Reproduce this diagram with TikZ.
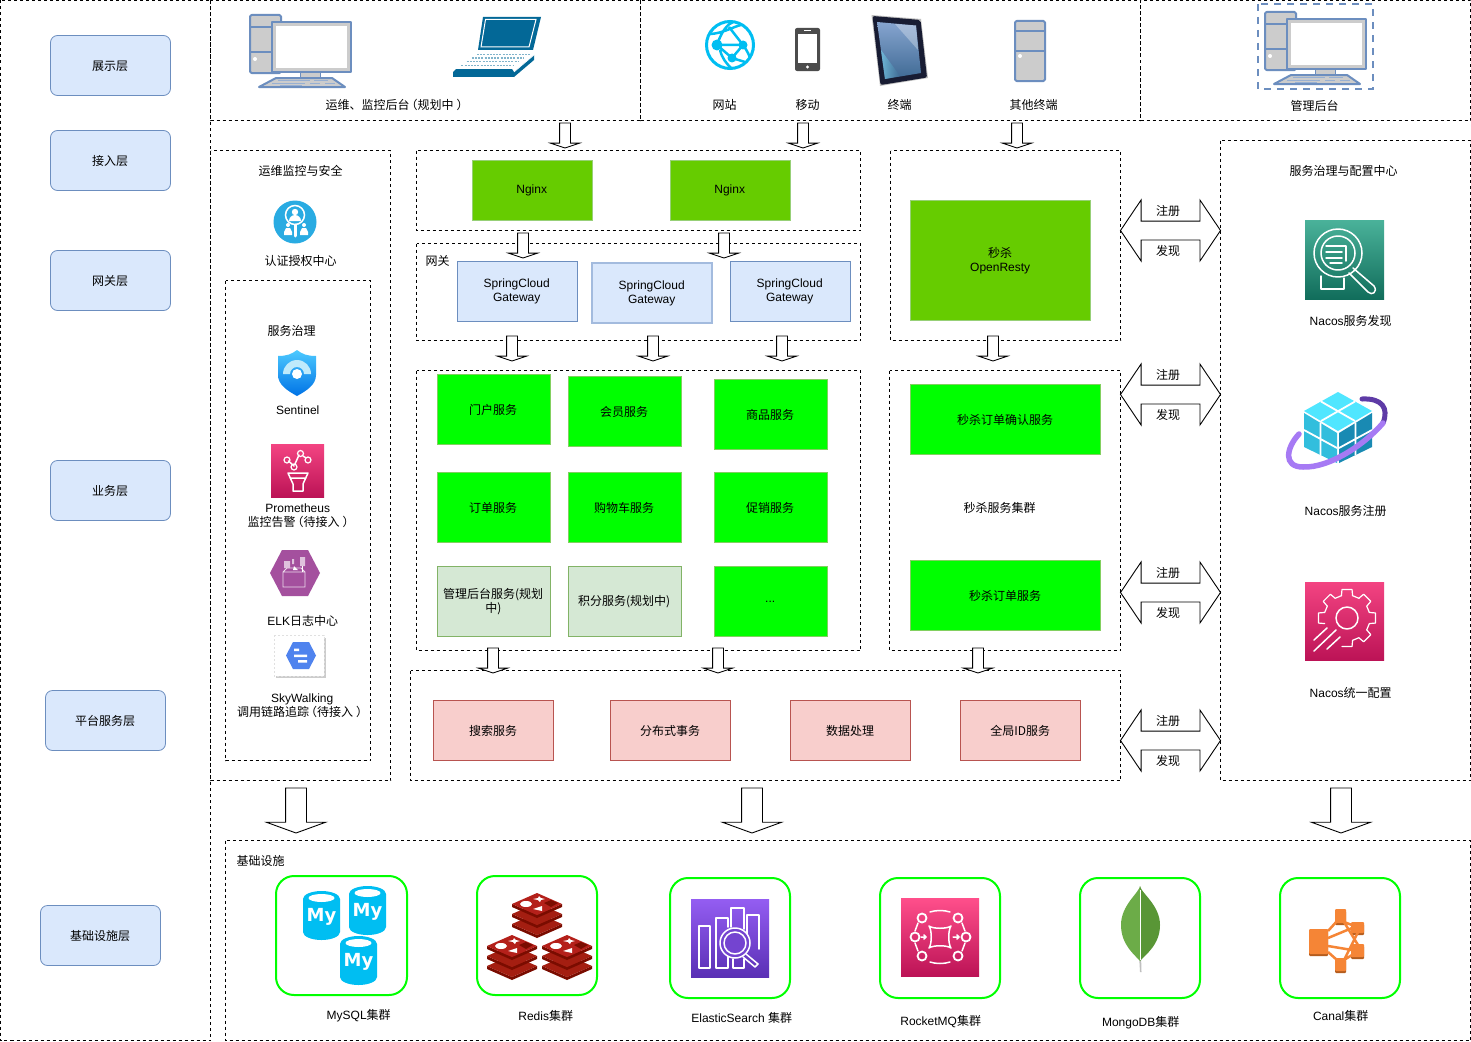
\documentclass[tikz,border=0pt]{standalone}
\usepackage{fontspec}
\setmainfont{Liberation Sans}
\newfontfamily\cjkfont{Noto Sans CJK SC}
\newfontfamily\myfont{DejaVu Sans}
\newcommand\en[1]{\kern-0.3pt\raisebox{-0.6pt}[\height][\depth]{#1}\kern0.3pt}
\newcommand\zh[1]{\en{\cjkfont #1}}
\newcommand\lp{\kern-4pt（}
\newcommand\rp{\kern3pt）\kern-7pt}
\newcommand\shaftbox[1]{\hbox to #1{\vrule width 0pt height #1\hss}}
\usetikzlibrary{shapes.arrows,shapes.geometric}
\definecolor{lb}{HTML}{DAE8FC}\definecolor{bb}{HTML}{6C8EBF}
\definecolor{ng}{HTML}{66CC00}\definecolor{ngb}{HTML}{97D077}
\definecolor{gg}{HTML}{00FF00}\definecolor{ggb}{HTML}{82D060}
\definecolor{pg}{HTML}{D5E8D4}\definecolor{pgb}{HTML}{82B366}
\definecolor{rd}{HTML}{F8CECC}\definecolor{rdb}{HTML}{B85450}
\definecolor{cg}{HTML}{CCCCCC}\definecolor{lapb}{HTML}{036897}
\definecolor{azb}{HTML}{00BEF2}\definecolor{pinkT}{HTML}{F34482}\definecolor{pinkB}{HTML}{BC1356}
\definecolor{pinkR}{HTML}{FF4F8B}
\definecolor{tealT}{HTML}{4AB29A}\definecolor{tealB}{HTML}{116D5B}
\definecolor{purT}{HTML}{945DF2}\definecolor{purB}{HTML}{5A30B5}\definecolor{purM}{HTML}{7444D0}
\definecolor{orng}{HTML}{F58536}\definecolor{orngd}{HTML}{B55D1E}
\definecolor{cubeT}{HTML}{50E6FF}\definecolor{cubeL}{HTML}{32BEDD}\definecolor{cubeR}{HTML}{198AB3}
\definecolor{ringL}{HTML}{A67AF4}\definecolor{ringD}{HTML}{5E3BA6}
\definecolor{leafL}{HTML}{6CAC48}\definecolor{leafR}{HTML}{599636}
\definecolor{authb}{HTML}{29ABE2}\definecolor{elkc}{HTML}{A4509E}\definecolor{skyb}{HTML}{4F83EE}
\definecolor{redT}{HTML}{B4201A}\definecolor{redM}{HTML}{A41E11}\definecolor{redS}{HTML}{7A0C00}
\definecolor{tabA}{HTML}{86A4CF}\definecolor{tabB}{HTML}{3F6A94}\definecolor{tabC}{HTML}{74C3E0}
\definecolor{bezel}{HTML}{181C33}
\tikzset{
 txt/.style={font=\fontsize{12}{14}\selectfont,align=center,inner sep=0pt,text=black},
 dashbox/.style={draw=black,line width=0.9pt,dash pattern=on 3pt off 3pt},
 layerbox/.style={txt,draw=bb,fill=lb,rounded corners=7pt,minimum width=120pt,minimum height=60pt,line width=0.8pt},
 boxn/.style={txt,minimum width=120pt,minimum height=60pt,line width=0.8pt},
 ngx/.style={boxn,draw=ngb,fill=ng},
 gw/.style={boxn,draw=bb,fill=lb},
 gwl/.style={boxn,draw=lb!50!bb,fill=lb,line width=1.4pt},
 svc/.style={boxn,draw=ggb,fill=gg,minimum width=113pt,minimum height=70pt},
 plan/.style={boxn,draw=pgb,fill=pg,minimum width=113pt,minimum height=70pt,text width=108pt},
 plat/.style={boxn,draw=rdb,fill=rd},
 infra/.style={draw=gg,line width=2pt,rounded corners=18pt,fill=white},
 arrS/.style={draw=black,fill=white,line width=0.9pt,shape=single arrow,shape border rotate=270,anchor=tail,inner sep=0pt,outer sep=0pt,
   minimum width=28pt,minimum height=25pt,single arrow head extend=9pt,single arrow tip angle=143},
 arrL/.style={arrS,minimum width=58pt,minimum height=45pt,single arrow head extend=19pt,single arrow tip angle=140},
 arrD/.style={draw=black,fill=white,line width=0.9pt,shape=double arrow,inner sep=0pt,outer sep=0pt,
   minimum width=60pt,minimum height=100pt,double arrow head extend=21pt,double arrow tip angle=112},
 wl/.style={draw=white,line width=1.5pt,line cap=round,line join=round},
 dev/.style={draw=bb,fill=cg,line width=2pt,line join=round},
}
\newcommand\desktopicon[2]{\begin{scope}[shift={(#1,#2)}]
 \draw[dev,rounded corners=1.5pt] (0,0) rectangle (31,58);
 \draw[bb,line width=1.6pt] (0,12)--(31,12) (0,37)--(31,37);
 \fill[white] (5,44) circle (2);
 \draw[dev] (22,7) rectangle (101,57);
 \fill[white] (26,11) rectangle (97,53);
 \fill[cg] (50,58) rectangle (70,63);
 \draw[bb,line width=1pt] (50,58)--(50,63) (70,58)--(70,63);
 \draw[dev] (26,63)--(82,63)--(95,72)--(9,72)--cycle;
 \draw[bb!70,line width=0.8pt] (28,65.5)--(60,65.5) (64,65.5)--(78,65.5) (22,68)--(55,68) (60,68)--(70,68) (75,68)--(85,68) (30,70)--(52,70);
\end{scope}}
\newcommand\stackicon[2]{\begin{scope}[shift={(#1,#2)}]
 \foreach \d/\c in {20/redM,10/redM,0/redT}{
  \fill[redS] (-25,11+\d)--(0,22+\d)--(25,11+\d)--(25,11+\d+3)--(0,22+\d+3)--(-25,11+\d+3)--cycle;
  \fill[\c] (-25,11+\d)--(0,\d)--(25,11+\d)--(0,22+\d)--cycle;
 }
 \fill[white] (-11,11) ellipse (6 and 3);
 \fill[white] (2,3)--(4,5)--(8,6)--(4,7)--(3,9)--(1,7)--(-4,6)--(1,5)--cycle;
 \fill[white] (-4,16)--(5,13)--(5,18)--cycle;
 \fill[redS] (7,10)--(14,7)--(21,10)--(14,14)--cycle;
\end{scope}}
\newcommand\cylicon[3]{\begin{scope}[shift={(#1,#2)}]
 \fill[azb] (0,8) arc[start angle=180,end angle=360,x radius=18.5,y radius=8] -- (37,41) arc[start angle=0,end angle=180,x radius=18.5,y radius=8] -- cycle;
 \fill[white] (18.5,7) ellipse (13 and 4);
 \node[font=\myfont\bfseries\fontsize{18}{18}\selectfont,text=white,inner sep=0pt] (#3) at (18.5,26) {My};
\end{scope}}
\begin{document}
\begin{tikzpicture}[x=1pt,y=-1pt]
\useasboundingbox (0,0) rectangle (1471,1041);
\fill[white] (0,0) rectangle (1471,1041);
% frames
\draw[dashbox] (0.5,0.5) rectangle (210.5,1040.5);
\draw[dashbox] (210.5,0.5) rectangle (640.5,120.5);
\draw[dashbox] (640.5,0.5) rectangle (1140.5,120.5);
\draw[dashbox] (1140.5,0.5) rectangle (1470.5,120.5);
\draw[dashbox] (210.5,150.5) rectangle (390.5,780.5);
\draw[dashbox] (225.5,280.5) rectangle (370.5,760.5);
\draw[dashbox] (416.5,150.5) rectangle (860.5,230.5);
\draw[dashbox] (416.5,243.5) rectangle (860.5,340.5);
\draw[dashbox] (416.5,370.5) rectangle (860.5,650.5);
\draw[dashbox] (890.5,150.5) rectangle (1120.5,340.5);
\draw[dashbox] (889.5,370.5) rectangle (1120.5,650.5);
\draw[dashbox] (410.5,670.5) rectangle (1120.5,780.5);
\draw[dashbox] (1220.5,140.5) rectangle (1470.5,780.5);
\draw[dashbox] (225.5,840.5) rectangle (1470.5,1040.5);
% layers
\node[layerbox] (lay1) at (110.5,65.5) {\zh{展示层}};
\node[layerbox] (lay2) at (110.5,160.5) {\zh{接入层}};
\node[layerbox] (lay3) at (110.5,280.5) {\zh{网关层}};
\node[layerbox] (lay4) at (110.5,490.5) {\zh{业务层}};
\node[layerbox] (lay5) at (105.5,720.5) {\zh{平台服务层}};
\node[layerbox] (lay6) at (100.5,935.5) {\zh{基础设施层}};
% boxes
\node[ngx] (ng1) at (532,190) {\en{Nginx}};
\node[ngx] (ng2) at (730,190) {\en{Nginx}};
\node[gw] (gw1) at (517,291) {\en{SpringCloud}\\\en{Gateway}};
\node[gwl] (gw2) at (652,293) {\en{SpringCloud}\\\en{Gateway}};
\node[gw] (gw3) at (790,291) {\en{SpringCloud}\\\en{Gateway}};
\node[ngx,minimum width=180pt,minimum height=120pt] (seck) at (1000.5,260.5) {\zh{秒杀}\\\en{OpenResty}};
\node[svc] (s1) at (493.5,409) {\zh{门户服务}};
\node[svc] (s2) at (624.5,411) {\zh{会员服务}};
\node[svc] (s3) at (770.5,414) {\zh{商品服务}};
\node[svc] (s4) at (493.5,507) {\zh{订单服务}};
\node[svc] (s5) at (624.5,507) {\zh{购物车服务}};
\node[svc] (s6) at (770.5,507) {\zh{促销服务}};
\node[plan] (s7) at (493.5,601) {\zh{管理后台服务(规划}\\\zh{中)}};
\node[plan] (s8) at (624.5,601) {\zh{积分服务(规划中)}};
\node[svc] (s9) at (770.5,601) {\en{...}};
\node[svc,minimum width=190pt] (k1) at (1005.5,419) {\zh{秒杀订单确认服务}};
\node[txt] (kc) at (1000,507) {\zh{秒杀服务集群}};
\node[svc,minimum width=190pt] (k2) at (1005.5,595) {\zh{秒杀订单服务}};
\node[plat] (p1) at (493.5,730.5) {\zh{搜索服务}};
\node[plat] (p2) at (670.5,730.5) {\zh{分布式事务}};
\node[plat] (p3) at (850.5,730.5) {\zh{数据处理}};
\node[plat] (p4) at (1020.5,730.5) {\zh{全局ID服务}};
% block arrows
\foreach \n/\x/\y in {a1/565/123,a2/803/123,a3/1017/123,a4/523/233,a5/724/233,a6/512/336,a7/653/336,a8/782/336,a9/993/336,a10/493/648,a11/718/648,a12/978/648}{
 \node[arrS] (\n) at (\x,\y) {\shaftbox{10pt}};
}
\foreach \n/\x in {a13/296,a14/752,a15/1341}{
 \node[arrL] (\n) at (\x,788) {\shaftbox{20pt}};
}
\foreach \n/\y in {d1/230.5,d2/394.5,d3/592.5,d4/740.5}{
 \node[arrD] (\n) at (1170.5,\y) {\shaftbox{18pt}};
 \node[txt] (\n reg) at (1168.5,\y-20.5) {\zh{注册}};
 \node[txt] (\n dis) at (1168.5,\y+19.5) {\zh{发现}};
}
% labels
\node[txt] (t1) at (394,104) {\zh{运维、监控后台\lp 规划中\rp}};
\node[txt] (t2) at (725,104) {\zh{网站}};
\node[txt] (t3) at (808,104) {\zh{移动}};
\node[txt] (t4) at (900,104) {\zh{终端}};
\node[txt] (t5) at (1034,104) {\zh{其他终端}};
\node[txt] (t6) at (1315,105) {\zh{管理后台}};
\node[txt] (t7) at (301,170) {\zh{运维监控与安全}};
\node[txt] (t8) at (301,260) {\zh{认证授权中心}};
\node[txt] (t9) at (292,330) {\zh{服务治理}};
\node[txt] (t10) at (298,410) {\en{Sentinel}};
\node[txt] (t11) at (298,515.5) {\en{Prometheus}\\\zh{监控告警\lp 待接入\rp}};
\node[txt] (t12) at (303,620) {\en{ELK}\zh{日志中心}};
\node[txt] (t13) at (299.5,705.5) {\en{\kern6pt SkyWalking}\\\zh{调用链路追踪\lp 待接入\rp}};
\node[txt] (t14) at (438,260) {\zh{网关}};
\node[txt] (t15) at (1344,170) {\zh{服务治理与配置中心}};
\node[txt] (t16) at (1351,320) {\en{Nacos}\zh{服务发现}};
\node[txt] (t17) at (1346,510) {\en{Nacos}\zh{服务注册}};
\node[txt] (t18) at (1351,692) {\en{Nacos}\zh{统一配置}};
\node[txt] (t19) at (261,860) {\zh{基础设施}};
\node[txt] (t20) at (359,1015) {\en{MySQL}\zh{集群}};
\node[txt] (t21) at (546,1015) {\en{Redis}\zh{集群}};
\node[txt] (t22) at (742,1017) {\en{ElasticSearch }\zh{集群}};
\node[txt] (t23) at (941,1021) {\en{RocketMQ}\zh{集群}};
\node[txt] (t24) at (1141,1022) {\en{MongoDB}\zh{集群}};
\node[txt] (t25) at (1341,1015) {\en{Canal}\zh{集群}};
% icons top row
\desktopicon{250}{15}
\draw[bb,line width=2pt,dash pattern=on 7pt off 6pt] (1258,4) rectangle (1373,89);
\desktopicon{1265}{12}
% laptop
\begin{scope}[shift={(453,17)}]
 \fill[lapb] (30,0)--(88,0)--(80,33)--(25,33)--cycle;
 \draw[white,line width=1pt] (32.5,2.5)--(83,2.5)--(76,30)--(28,30)--cycle;
 \fill[white] (25,35)--(80,35)--(59,53)--(3,53)--cycle;
 \foreach \r in {0,1,2,3}{
  \draw[lapb!50,line width=1.4pt,dash pattern=on 2pt off 1.2pt] (24-5.2*\r,37.5+3.6*\r)--(77-5.6*\r,37.5+3.6*\r);}
 \fill[lapb] (3,52)--(59,52)--(61,55)--(0,55)--cycle;
 \fill[lapb] (0,55)--(61,55)--(61,60)--(0,60)--cycle;
 \fill[lapb] (61,55)--(81,38)--(81,43)--(61,60)--cycle;
 \draw[white,line width=0.6pt] (61,55)--(81,38);
\end{scope}
% website
\begin{scope}
 \draw[azb,line width=3pt,fill=white] (730,45) circle (23.5);
 \draw[azb,line width=2.5pt] (709,34) .. controls (722,34) and (735,26) .. (741,25)
   (717,45) .. controls (722,30) and (728,24) .. (733,22)
   (717,45)--(732,58)--(743,45)--(729,27)
   (720,50) .. controls (722,58) and (726,63) .. (731,68)
   (717,45)--(743,45)
   (743,45) .. controls (748,52) and (749,55) .. (750,58)
   (732,58)--(745,62);
 \fill[azb] (717,45) circle (5.5) (743,45) circle (4.5) (732,58) circle (4.5);
\end{scope}
% phone
\fill[black!70,rounded corners=2pt] (795,28) rectangle (820,71);
\fill[white] (798,34) rectangle (817,63);
\fill[white] (807.5,67) circle (1.6);
\fill[white] (804,30.5) rectangle (811,31.3);
% tablet
\fill[black!25] (871.5,15)--(921,19)--(928,78)--(880,86)--cycle;
\fill[bezel,rounded corners=2pt] (872.5,16)--(920.5,20)--(927,77.5)--(880.5,85)--cycle;
\shade[top color=tabA,bottom color=tabB] (877,22)--(916,25.5)--(921,73)--(885,79)--cycle;
\shade[left color=tabC,right color=tabB,opacity=0.8] (881,50)--(900,76)--(885,79)--cycle;
\fill[white,opacity=0.3] (895,24)--(916,25.5)--(918,50)--cycle;
% server
\draw[dev,rounded corners=1.5pt] (1015,21) rectangle (1045,81);
\draw[bb,line width=1.6pt] (1015,31)--(1045,31) (1015,51)--(1045,51);
\fill[white] (1020,56) circle (2);
% auth icon
\fill[authb] (295,222) circle (21.5);
\draw[white,line width=1.5pt] (295,215) circle (9.5);
\fill[white] (295,212) circle (3.2);
\fill[white] (289,221) arc[start angle=180,end angle=360,radius=6] -- cycle;
\draw[white,line width=3pt,line cap=round] (295,225)--(295,236);
\fill[white] (288,225) circle (2) (284,232) rectangle (292,235) (304,225) circle (2) (300,232) rectangle (308,235);
\fill[white] (286,228)--(290,228)--(292,232)--(284,232)--cycle (302,228)--(306,228)--(308,232)--(300,232)--cycle;
% sentinel shield
\shade[top color=blue!30!cyan!70,bottom color=blue!50!cyan!90!black,shading angle=0]
 (278,356) .. controls (287,356) and (292,354) .. (297,350) .. controls (302,354) and (307,356) .. (316,356)
 -- (316,375) .. controls (316,385) and (306,391) .. (297,396) .. controls (288,391) and (278,385) .. (278,375) -- cycle;
\fill[cyan!25!white] (283,374) arc[start angle=180,end angle=360,radius=14] -- (304,374) arc[start angle=0,end angle=-180,radius=7] -- cycle;
\fill[white] (297,374) circle (5);
% prometheus icon
\shade[top color=pinkT,bottom color=pinkB] (271,444) rectangle (324,497);
\draw[wl] (288.5,461)--(294,466) (295,464)--(299,455) (303,456)--(306,458);
\draw[wl,line width=1.2pt] (287,460) circle (3) (294,467) circle (3) (300.5,453.5) circle (3) (308,460) circle (3);
\draw[wl] (288,473)--(308,473)--(303,484)--(303,491)--(293,491)--(293,484)--cycle (290,478)--(306,478);
% ELK hexagon
\fill[elkc] (270,573)--(282,550)--(308,550)--(320,573)--(308,596)--(282,596)--cycle;
\draw[white!80!elkc,line width=0.9pt] (283,572)--(305,572)--(305,587)--(283,587)--cycle (283,572)--(287,568)--(301,568)--(305,572);
\fill[white!65!elkc] (284,561) rectangle (290,568) (300,557) rectangle (305,566) (292,559) rectangle (294,564);
\fill[white] (294,566)--(298,570)--(293,570)--cycle;
\draw[white,line width=0.7pt] (302,566)--(302,572);
% skywalking
\fill[black!20] (276,638) rectangle (326,678);
\fill[white] (274,635) rectangle (324,676);
\draw[black!12,dash pattern=on 2pt off 2pt] (274,635) rectangle (324,676);
\fill[skyb] (286,655.5)--(293,642)--(309,642)--(316,655.5)--(309,669)--(293,669)--cycle;
\fill[white] (294,648.5) rectangle (299,651) (294,654.5) rectangle (307,657) (298,660) rectangle (307,662.5);
% nacos discover
\shade[top color=tealT,bottom color=tealB] (1305,220) rectangle (1384,299);
\draw[wl] (1338,253) circle (24) (1338,253) circle (17);
\draw[wl] (1326,246)--(1346,246)--(1346,261) (1326,252)--(1342,252) (1326,258)--(1342,258) (1330,263)--(1342,263);
\draw[wl] (1353,268)--(1374,286) .. controls (1378,292) and (1372,296) .. (1368,292) -- (1349,273);
\draw[wl] (1321,276)--(1321,289)--(1344,289)--(1344,278);
% nacos register
\draw[ringD,line width=5pt,line cap=round] (1383,423) .. controls (1389,408) and (1382,398) .. (1362,399);
\fill[cubeT] (1338,392)--(1372,411)--(1338,431)--(1304,411)--cycle;
\fill[cubeL] (1304,413)--(1337,433)--(1337,463)--(1304,447)--cycle;
\fill[cubeR] (1372,413)--(1339,433)--(1339,463)--(1372,447)--cycle;
\draw[white,line width=1.8pt] (1321,401.5)--(1355,421) (1355,401.5)--(1321,421)
 (1304,430)--(1337,448) (1320.5,423)--(1320.5,455) (1372,430)--(1339,448) (1355.5,423)--(1355.5,455);
\draw[ringL,line width=5.5pt,line cap=round] (1299,434) .. controls (1286,448) and (1283,467) .. (1303,467) .. controls (1330,468) and (1365,444) .. (1383,423);
% nacos config
\shade[top color=pinkT,bottom color=pinkB] (1305,582) rectangle (1384,660);
\begin{scope}[shift={(1347,618)}]
 \draw[wl] (0,0) circle (11);
 \foreach \a in {-90,-45,0,45,-135,-180}{
  \draw[wl,line width=1.2pt] (\a-14:23)--(\a-10:29)--(\a+10:29)--(\a+14:23)--(\a+31:23);}
 \draw[wl,line width=1.2pt] (90-14:23)--(90-10:29)--(90+10:29);
\end{scope}
\draw[wl] (1314,640)--(1327,628) (1314,651)--(1336,630) (1327,649)--(1340,637);
% infra
\draw[infra] (276,876) rectangle (407,995);
\draw[infra] (477,876) rectangle (597,995);
\draw[infra] (670,878) rectangle (790,998);
\draw[infra] (880,878) rectangle (1000,998);
\draw[infra] (1080,878) rectangle (1200,998);
\draw[infra] (1280,878) rectangle (1400,998);
\cylicon{303}{891}{my1}\cylicon{349}{886}{my2}\cylicon{340}{936}{my3}
\stackicon{537}{893}\stackicon{512}{935}\stackicon{567}{935}
% elastic
\shade[top color=purT,bottom color=purB] (691,899) rectangle (769,977);
\begin{scope}[shift={(691,899)}]
 \draw[wl] (8,27)rectangle(19,69) (25,69)--(25,19)--(37,19)--(37,28) (40,28)--(40,9)--(53,9)--(53,30) (56,42)--(56,16)--(68,16)--(68,50) (37,52)--(37,69)--(25,69) (42,60)--(42,69)--(53,69)--(53,60);
 \draw[wl,fill=purM] (44,44) circle (15);
 \draw[wl] (44,44) circle (11);
 \draw[wl] (55,55)--(67,65)--(64,68)--(52,58);
\end{scope}
% rocketmq
\shade[top color=pinkR,bottom color=pinkB] (901,898) rectangle (979,976);
\begin{scope}[shift={(940,937)}]
 \foreach \p in {(-18,-19),(18,-19),(-25,0),(26,0),(-18,19),(18,19)}{\draw[wl,line width=1.8pt] \p circle (4.5);}
 \draw[wl] (-11,-11) .. controls (-7,-8) and (7,-8) .. (11,-11) .. controls (8,-7) and (8,7) .. (11,11) .. controls (7,8) and (-7,8) .. (-11,11) .. controls (-8,7) and (-8,-7) .. (-11,-11) -- cycle;
 \draw[wl] (-19,0)--(-14,0) (-16,-2)--(-14,0)--(-16,2) (13,0)--(19,0) (17,-2)--(19,0)--(17,2);
 \draw[wl] (-10,-25) .. controls (-4,-27) and (4,-27) .. (10,-25) (-10,25) .. controls (-4,27) and (4,27) .. (10,25)
  (-22,-14)--(-25,-6) (22,-14)--(25,-6) (-22,14)--(-25,6) (22,14)--(25,6);
\end{scope}
% mongodb leaf
\fill[black!25] (1139,955)--(1141,955)--(1141.5,972)--(1140,972)--cycle;
\fill[leafR] (1140,886) .. controls (1141,893) and (1160,905) .. (1160,925) .. controls (1160,945) and (1145,955) .. (1140,961) -- cycle;
\fill[leafL] (1140,886) .. controls (1139,893) and (1121,905) .. (1121,925) .. controls (1121,945) and (1135,955) .. (1140,961) -- cycle;
\draw[white,line width=0.4pt] (1140,890)--(1140,960);
% canal
\begin{scope}
 \foreach \c/\dy in {orngd/2,orng/0}{
  \fill[\c,rounded corners=1pt] (1309,929+\dy) rectangle (1328,954+\dy);
  \fill[\c,rounded corners=1pt] (1335,909+\dy) rectangle (1346,923+\dy);
  \fill[\c,rounded corners=1pt] (1335,958+\dy) rectangle (1346,971+\dy);
  \fill[\c,rounded corners=1pt] (1351,922+\dy) rectangle (1364,933+\dy);
  \fill[\c,rounded corners=1pt] (1351,944+\dy) rectangle (1364,957+\dy);
 }
 \draw[orng,line width=2.5pt] (1328,931)--(1337,921) (1328,952)--(1337,960) (1328,938)--(1352,928) (1328,946)--(1352,950)
  (1344,922)--(1358,945) (1344,960)--(1358,932) (1344,922)--(1352,925) (1344,960)--(1352,955);
\end{scope}
\end{tikzpicture}
\end{document}
